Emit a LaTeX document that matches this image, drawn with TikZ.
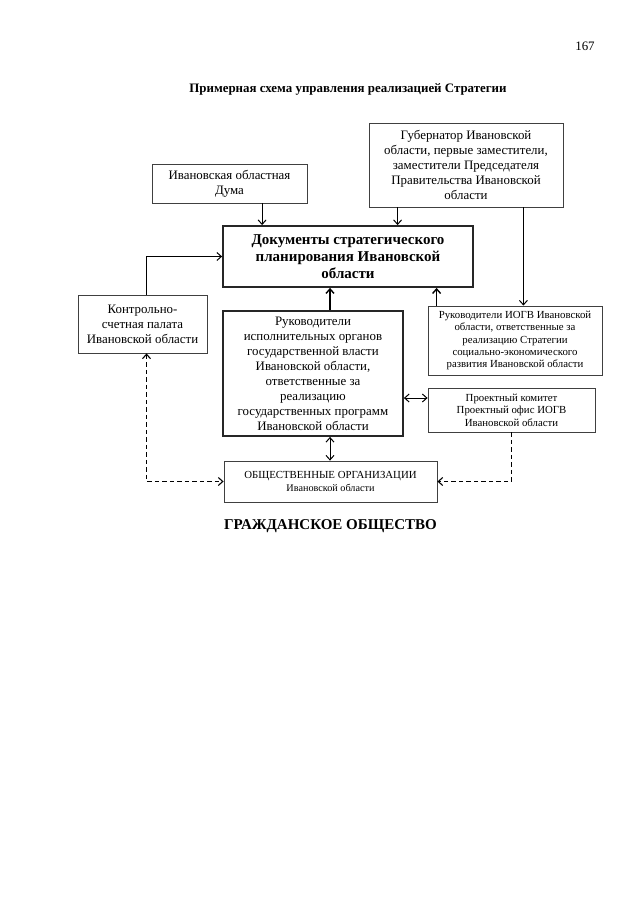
\documentclass[tikz,border=0pt]{standalone}
\usepackage{fontspec}
\setmainfont{Liberation Serif}
\usetikzlibrary{arrows.meta}
\newcommand\fnorm{\fontsize{12.9}{15}\selectfont}
\newcommand\fbig{\fontsize{15}{16.8}\selectfont}
\newcommand\fsmall{\fontsize{10.8}{12.4}\selectfont}
\newcommand\ftiny{\fontsize{10.2}{11.6}\selectfont}
\tikzset{
  box/.style = {draw=black!75, line width=0.8pt, inner sep=0pt,
                align=center, font=\fnorm},
  mainbox/.style = {box, draw=black!85, line width=1.8pt},
  tip/.tip = {Straight Barb[length=4.5pt, width=8pt]},
  arr/.style = {line width=1pt, -tip},
  darr/.style = {line width=1pt, tip-tip},
  dashline/.style = {line width=1.1pt, dash pattern=on 4.5pt off 3pt}
}

\begin{document}
\begin{tikzpicture}[x=1pt, y=-1pt]
	\useasboundingbox (0,0) rectangle (640,905);
	\fill[white] (0,0) rectangle (640,905);
	
	% Page number and titles
	\node[font=\fnorm] (page) at (585,46) {167};
	\node[font=\fnorm\bfseries] (title) at (348,89) {Примерная схема управления реализацией Стратегии};
	\node[font=\fbig\bfseries] (society) at (330.5,526) {ГРАЖДАНСКОЕ ОБЩЕСТВО};
	
	% Upper row
	\node[box, minimum width=194, minimum height=84] (guber) at (466,165)
		{Губернатор Ивановской\\области, первые заместители,\\заместители Председателя\\Правительства Ивановской\\области};
	\node[box, minimum width=155, minimum height=39] (duma) at (229.5,183.5)
		{Ивановская областная\\Дума};
	\node[mainbox, font=\fbig\bfseries, minimum width=250, minimum height=61] (docs) at (348,256.5)
		{Документы стратегического\\планирования Ивановской\\области};
	
	% Middle row
	\node[box, minimum width=129, minimum height=58] (kontrol) at (142.5,324)
		{Контрольно-\\счетная палата\\Ивановской области};
	\node[mainbox, minimum width=180, minimum height=125] (rukov) at (313,373.5)
		{Руководители\\исполнительных органов\\государственной власти\\Ивановской области,\\ответственные за\\реализацию\\государственных программ\\Ивановской области};
	\node[box, font=\fsmall, minimum width=174, minimum height=69] (iogv) at (515,340.5)
		{Руководители ИОГВ Ивановской\\области, ответственные за\\реализацию Стратегии\\социально-экономического\\развития Ивановской области};
	\node[box, font=\fsmall, minimum width=167, minimum height=44] (proekt) at (511.5,410)
		{Проектный комитет\\Проектный офис ИОГВ\\Ивановской области};
	
	% Lower row
	\node[box, font=\fsmall, minimum width=213, minimum height=41] (obsch) at (330.5,481.5)
		{ОБЩЕСТВЕННЫЕ ОРГАНИЗАЦИИ\\{\ftiny Ивановской области}};
	
	% Arrows into the documents
	\draw[arr] ([xshift=40pt]docs.north west |- duma.south) -- ([xshift=40pt]docs.north west);
	\draw[arr] ([xshift=29pt]guber.south west) -- ([xshift=29pt]guber.south west |- docs.north);
	\draw[arr] ([xshift=4pt]kontrol.north) |- (docs.west);
	\draw[arr, line width=1.4pt] ([xshift=17pt]rukov.north) -- ([xshift=17pt]rukov.north |- docs.south);
	\draw[arr, line width=1.4pt] ([xshift=9pt]iogv.north west) -- ([xshift=9pt]iogv.north west |- docs.south);
	
	% Governor to IOGV heads
	\draw[arr] ([xshift=-40pt]guber.south east) -- ([xshift=-40pt]guber.south east |- iogv.north);
	
	% Two-way links
	\draw[darr] ([yshift=12pt]proekt.west -| rukov.east) -- ([yshift=12pt]proekt.west);
	\draw[darr] ([xshift=17pt]rukov.south) -- ([xshift=17pt]rukov.south |- obsch.north);
	
	% Dashed links
	\draw[dashline, tip-tip] ([xshift=4pt]kontrol.south) |- (obsch.west);
	\draw[dashline, -tip] (proekt.south) |- (obsch.east);
	
\end{tikzpicture}
\end{document}
